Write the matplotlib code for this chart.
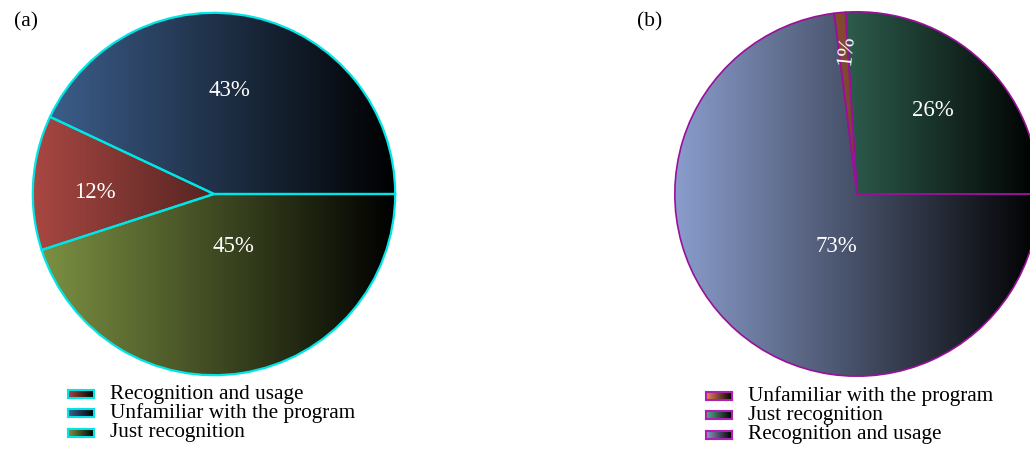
import matplotlib.pyplot as plt
import numpy as np
from matplotlib.colors import to_rgb

plt.rcParams['font.family'] = ['Liberation Serif', 'DejaVu Serif']

# Data (pie order counter-clockwise from 3 o'clock)
pie_a_labels = ['Unfamiliar with the program', 'Recognition and usage', 'Just recognition']
pie_a_values = [43, 12, 45]
pie_a_colors = ['#3f6291', '#a94742', '#7f9444']

pie_b_labels = ['Just recognition', 'Unfamiliar with the program', 'Recognition and usage']
pie_b_values = [26, 1, 73]
pie_b_colors = ['#55ae90', '#f08858', '#8a9dcc']

# legend order as shown under each pie
legend_a = ['Recognition and usage', 'Unfamiliar with the program', 'Just recognition']
legend_b = ['Unfamiliar with the program', 'Just recognition', 'Recognition and usage']

W, H = 1030, 449
fig = plt.figure(figsize=(W / 100, H / 100), dpi=100)


def gradient(color, n=256):
    c = np.array(to_rgb(color))
    t = np.linspace(0, 1, n)[None, :, None]
    return c[None, None, :] * (1 - t)


def draw_pie(rect, values, colors, edge, lw, label_pos):
    ax = fig.add_axes(rect)
    wedges, _ = ax.pie(values, colors=colors, startangle=0, counterclock=True,
                       radius=1, wedgeprops=dict(edgecolor=edge, linewidth=lw))
    total = sum(values)
    start = 0
    for w, v, c, (rr, dang, rot) in zip(wedges, values, colors, label_pos):
        w.set_facecolor('none')
        w.set_zorder(3)
        im = ax.imshow(gradient(c), extent=(-1, 1, -1, 1), interpolation='bilinear',
                       zorder=2)
        im.set_clip_path(w)
        mid = np.deg2rad(start + v / total * 180 + dang)
        start += v / total * 360
        ax.text(rr * np.cos(mid), rr * np.sin(mid), f'{v}%', color='white',
                fontsize=16.5, ha='center', va='center', rotation=rot, zorder=5)
    ax.set_xlim(-1.01, 1.01)
    ax.set_ylim(-1.01, 1.01)
    ax.set_aspect('equal')
    ax.axis('off')
    return ax


def px_rect(cx, cy, r):
    return [(cx - r) / W, 1 - (cy + r) / H, 2 * r / W, 2 * r / H]


# (radius, angle shift, rotation) of each percentage label
draw_pie(px_rect(214, 194, 183), pie_a_values, pie_a_colors, '#00e5e5', 1.6,
         [(0.58, 4, 0), (0.66, 3, 0), (0.31, 11, 0)])
draw_pie(px_rect(857, 194, 184), pie_b_values, pie_b_colors, '#9a109a', 1.2,
         [(0.62, 1, 0), (0.79, -1, 84), (0.31, 20, 0)])

fig.text(14 / W, 1 - 22 / H, '(a)', fontsize=15.5, ha='left', va='center')
fig.text(637 / W, 1 - 22 / H, '(b)', fontsize=15.5, ha='left', va='center')


def draw_legend(x0, y0, names, order, colors, edge):
    cmap = dict(zip(names, colors))
    for i, name in enumerate(order):
        y = y0 + i * 19.3
        pax = fig.add_axes([x0 / W, 1 - (y + 4) / H, 26 / W, 8 / H])
        pax.imshow(gradient(cmap[name]), aspect='auto', interpolation='bilinear')
        pax.set_xticks([])
        pax.set_yticks([])
        for s in pax.spines.values():
            s.set_color(edge)
            s.set_linewidth(1.5)
        fig.text((x0 + 42) / W, 1 - y / H, name, fontsize=15.3, ha='left',
                 va='center')


draw_legend(68, 394, pie_a_labels, legend_a, pie_a_colors, '#00e5e5')
draw_legend(706, 396, pie_b_labels, legend_b, pie_b_colors, '#b020b0')

fig.savefig('out.png', dpi=100)
